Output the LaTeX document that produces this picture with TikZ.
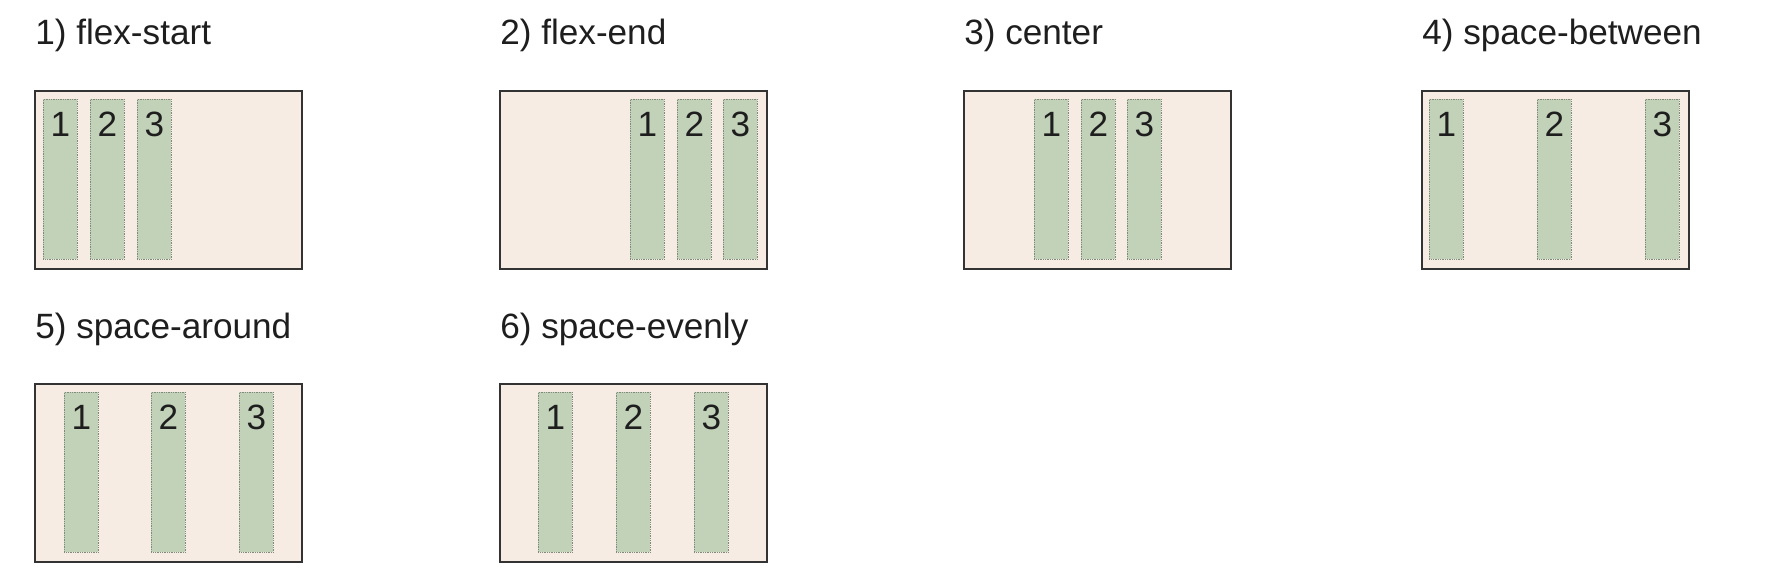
\documentclass[tikz,border=0pt]{standalone}
\usepackage{fontspec}
\setmainfont{Liberation Sans}
\definecolor{boxbg}{HTML}{F6ECE4}
\definecolor{itemgreen}{HTML}{C2D2B8}
\definecolor{itemline}{HTML}{7F8A7A}
\definecolor{boxline}{HTML}{333333}
\definecolor{textdark}{HTML}{1E1E1E}
\tikzset{
  container/.style={draw=boxline, line width=1.1pt, fill=boxbg, anchor=north west, inner sep=0pt, minimum width=5.34cm, minimum height=3.56cm},
  flexitem/.style={draw=itemline, fill=itemgreen, dash pattern=on 0.5pt off 0.5pt, line width=0.45pt, anchor=north west, inner sep=0pt, minimum width=0.68cm, text height=0.74cm, text depth=2.46cm, font=\fontsize{20}{24}\selectfont, text=textdark},
  caption/.style={anchor=base west, inner sep=0pt, font=\fontsize{20}{24}\selectfont, text=textdark}
}
\begin{document}
\begin{tikzpicture}[x=0.02cm, y=-0.02cm]
	\useasboundingbox (0,0) rectangle (1783,574);
	% row one
	\node[caption] (t1) at (35,45) {1) flex-start};
	\node[caption] (t2) at (500,45) {2) flex-end};
	\node[caption] (t3) at (964,45) {3) center};
	\node[caption] (t4) at (1422,45) {4) space-between};
	\node[container] (c1) at (34,90) {};
	\node[container] (c2) at (499,90) {};
	\node[container] (c3) at (963,90) {};
	\node[container] (c4) at (1421,90) {};
	\node[flexitem] (c1a) at (43,99) {1};
	\node[flexitem] (c1b) at (90,99) {2};
	\node[flexitem] (c1c) at (137,99) {3};
	\node[flexitem] (c2a) at (630,99) {1};
	\node[flexitem] (c2b) at (677,99) {2};
	\node[flexitem] (c2c) at (723,99) {3};
	\node[flexitem] (c3a) at (1034,99) {1};
	\node[flexitem] (c3b) at (1081,99) {2};
	\node[flexitem] (c3c) at (1127,99) {3};
	\node[flexitem] (c4a) at (1429,99) {1};
	\node[flexitem] (c4b) at (1537,99) {2};
	\node[flexitem] (c4c) at (1645,99) {3};
	% row two
	\node[caption] (t5) at (35,338) {5) space-around};
	\node[caption] (t6) at (500,338) {6) space-evenly};
	\node[container] (c5) at (34,383) {};
	\node[container] (c6) at (499,383) {};
	\node[flexitem] (c5a) at (64,392) {1};
	\node[flexitem] (c5b) at (151,392) {2};
	\node[flexitem] (c5c) at (239,392) {3};
	\node[flexitem] (c6a) at (538,392) {1};
	\node[flexitem] (c6b) at (616,392) {2};
	\node[flexitem] (c6c) at (694,392) {3};
\end{tikzpicture}
\end{document}
